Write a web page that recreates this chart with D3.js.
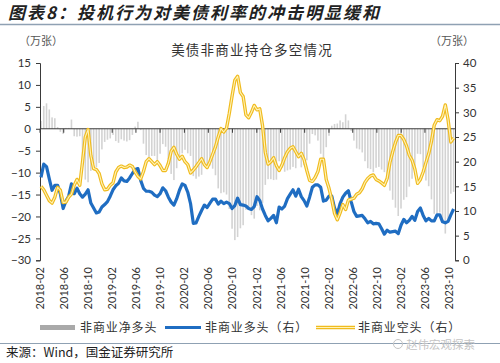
<!DOCTYPE html>
<html><head><meta charset="utf-8">
<script src="https://cdn.jsdelivr.net/npm/d3@7"></script>
<style>body{margin:0;background:#fff}svg{display:block}</style>
</head><body>
<svg id="c" width="500" height="363"></svg>
<script>
// ---- data (万张), biweekly observations starting 2018-02-06 ----
const startDate = "2018-02-06";
const stepDays = 14;
const netLong = [1.8,5.2,5.8,4.4,2.6,2.4,0.4,-0.7,-1.2,0.2,0.2,2.1,-1.7,-1.8,-1.7,-7.2,-11.6,-12.2,-9.6,-8,
-8.8,-7.8,-4.7,-3,-2.5,-2.2,-1.4,-2.8,-3.2,-2.4,-2.7,-2.9,-2.6,-1.4,0.5,1.6,-0.3,-3.4,-6,-6.6,
-6.2,-6.2,-7.1,-5.7,-3.5,-4.1,-6.9,-10.3,-11.7,-9,-6.3,-5.6,-4.8,-5.6,-6.2,-10.8,-11.4,-10.9,-10.5,-8.2,
-8.1,-8.4,-9.1,-10.6,-13.6,-14.7,-14.5,-15,-18.3,-22.8,-25.4,-24.7,-22.7,-22,-18.5,-18.4,-19.7,-20.5,-17.6,-18.6,
-16.9,-12.8,-11.5,-11.5,-11.7,-11.6,-7.4,-8.9,-9.8,-9.5,-9.3,-8.7,-9,-6.6,-8.8,-8.3,-7.2,-3.4,-1.2,-1.5,
-2.7,-5.7,-8.5,-4.2,-1.6,0.7,1.1,1.2,1.9,1.5,3.3,1.9,-0.5,-2.7,-4.5,-4.7,-5.4,-7.4,-9,-9.2,
-9.9,-8.9,-8.7,-9.3,-9.9,-10.5,-14.1,-16.2,-18,-19.9,-18.2,-16.2,-15.6,-13.2,-11.4,-10.4,-5.7,-5.8,-8.8,-11.8,
-13.1,-16.1,-19.4,-19.3,-19.1,-21.4,-23.9,-20.6,-14.8,-14.4];
const longPos = [16.8,19.5,19,16.5,14.2,15.2,15.2,13.5,10.5,12,13,15.5,13.5,14.6,13.5,12.8,13.4,14.3,11.6,10.6,
9.6,9.8,10.8,11.3,11.9,13,14.3,15.1,15.6,16.7,16.1,16,16.7,17.6,18.4,18.6,16.2,14.6,14,14,
13.8,13.2,12.9,13.5,14.7,14.1,12.8,11.8,11.2,12.5,14.2,15.5,15.2,13.8,11.5,7.5,7.6,8.9,10.1,11.2,
10.7,11.6,12.4,12.4,11.4,12,11.5,11.8,11.5,10.5,11.1,12.6,11.3,11.2,11,10.5,10.3,10.9,12.9,12.1,
10.4,9.1,8,8.5,9.1,7.6,10.8,10.4,11,12.5,13.4,14.3,13,14.4,12.9,12.1,11,12.8,14.8,15.3,
15.3,14.8,12,12.2,13,13,10.6,9.4,11.5,12.8,13.6,14.1,11.9,9.9,8.9,9,9.1,8.4,7.6,7.9,
7.4,7.5,7.4,6.4,5.3,6.1,5.7,5.8,5.9,5.4,7.1,8.3,7.6,8.1,8.9,8.1,9.9,10.6,9.1,8,
8.5,8,8,9.2,9.2,7.8,7.6,7.9,9.2,10.4];
const shortPos = [15,14.3,13.2,12.1,11.6,12.8,14.8,14.2,11.7,11.8,12.8,13.4,15.2,16.4,15.2,20,25,26.5,21.2,18.6,
18.4,17.6,15.5,14.3,14.4,15.2,15.7,17.9,18.8,19.1,18.8,18.9,19.3,19,17.9,17,16.5,18,20,20.6,
20,19.4,20,19.2,18.2,18.2,19.7,22.1,22.9,21.5,20.5,21.1,20,19.4,17.7,18.3,19,19.8,20.6,19.4,
18.8,20,21.5,23,25,26.7,26,26.8,29.8,33.3,36.5,37.3,34,33.2,29.5,28.9,30,31.4,30.5,30.7,
27.3,21.9,19.5,20,20.8,19.2,18.2,19.3,20.8,22,22.7,23,22,21,21.7,20.4,18.2,16.2,16,16.8,
18,20.5,20.5,16.4,14.6,12.3,9.5,8.2,9.6,11.3,10.3,12.2,12.4,12.6,13.4,13.7,14.5,15.8,16.6,17.1,
17.3,16.4,16.1,15.7,15.2,16.6,19.8,22,23.9,25.3,25.3,24.5,23.2,21.3,20.3,18.5,15.6,16.4,17.9,19.8,
21.6,24.1,27.4,28.5,28.3,29.2,31.5,28.5,24,24.8];
const xTickLabels = ["2018-02","2018-06","2018-10","2019-02","2019-06","2019-10","2020-02","2020-06","2020-10",
"2021-02","2021-06","2021-10","2022-02","2022-06","2022-10","2023-02","2023-06","2023-10"];
const leftTicks = [-30,-25,-20,-15,-10,-5,0,5,10,15];
const rightTicks = [0,5,10,15,20,25,30,35,40];
const seriesNames = ["非商业净多头","非商业多头（右）","非商业空头（右）"];

// ---- layout ----
const svg = d3.select("#c");
const cjk = "'Noto Sans CJK SC', sans-serif";
const num = "Lato, 'Liberation Sans', sans-serif";
const L = 40, R = 455, T = 63, B = 260.3;

const parse = d3.utcParse("%Y-%m-%d");
const parseM = d3.utcParse("%Y-%m");
const t0 = parse(startDate);
const dates = netLong.map((_, i) => d3.utcDay.offset(t0, i * stepDays));

const x = d3.scaleUtc().domain([parse("2018-02-01"), parse("2023-10-31")]).range([L, R]);
const yL = d3.scaleLinear().domain([-30, 15]).range([B, T]);
const yR = d3.scaleLinear().domain([0, 40]).range([B, T]);

// title
svg.append("text").attr("x", 8).attr("y", 19)
  .attr("font-family", cjk).attr("font-size", 17).attr("font-weight", "bold")
  .attr("font-style", "italic").attr("letter-spacing", 2).attr("fill", "#222")
  .text("图表8：投机行为对美债利率的冲击明显缓和");
svg.append("line").attr("x1", 0).attr("x2", 500).attr("y1", 24.5).attr("y2", 24.5)
  .attr("stroke", "#8fa1b3").attr("stroke-width", 1.5);
svg.append("line").attr("x1", 0).attr("x2", 500).attr("y1", 343.5).attr("y2", 343.5)
  .attr("stroke", "#8fa1b3").attr("stroke-width", 1.2);

// units + subtitle
svg.append("text").attr("x", 41).attr("y", 45).attr("text-anchor", "middle")
  .attr("font-family", cjk).attr("font-size", 11).attr("fill", "#555").text("（万张）");
svg.append("text").attr("x", 452).attr("y", 45).attr("text-anchor", "middle")
  .attr("font-family", cjk).attr("font-size", 11).attr("fill", "#555").text("（万张）");
svg.append("text").attr("x", 252).attr("y", 54.5).attr("text-anchor", "middle")
  .attr("font-family", cjk).attr("font-size", 13.5).attr("letter-spacing", 1.2).attr("fill", "#333")
  .text("美债非商业持仓多空情况");

// net long bars
svg.append("g").selectAll("rect").data(netLong).join("rect")
  .attr("x", (d, i) => x(dates[i]) - 0.8).attr("width", 1.6)
  .attr("y", d => yL(Math.max(0, d))).attr("height", d => Math.abs(yL(d) - yL(0)))
  .attr("fill", "#d3d3d3");

// zero line with category ticks
svg.append("line").attr("x1", L).attr("x2", R).attr("y1", yL(0)).attr("y2", yL(0))
  .attr("stroke", "#3a3a3a").attr("stroke-width", 1);
const xt = xTickLabels.map(s => parseM(s));
svg.append("g").selectAll("line").data(xt).join("line")
  .attr("x1", d => x(d)).attr("x2", d => x(d)).attr("y1", yL(0)).attr("y2", yL(0) + 4)
  .attr("stroke", "#3a3a3a");

// x labels
svg.append("g").selectAll("text").data(xTickLabels).join("text")
  .attr("transform", (d, i) => `translate(${x(xt[i]) + 4},267) rotate(-90)`)
  .attr("text-anchor", "end").attr("font-family", num).attr("font-size", 11).attr("fill", "#333")
  .text(d => d);

// axes
const axL = d3.axisLeft(yL).tickValues(leftTicks).tickSize(4).tickPadding(5);
const gL = svg.append("g").attr("transform", `translate(${L},0)`).call(axL);
const axR = d3.axisRight(yR).tickValues(rightTicks).tickSize(4).tickPadding(4);
const gR = svg.append("g").attr("transform", `translate(${R},0)`).call(axR);
[gL, gR].forEach(g => {
  g.select(".domain").attr("stroke", "#3a3a3a");
  g.selectAll(".tick line").attr("stroke", "#3a3a3a");
  g.selectAll("text").attr("font-family", num).attr("font-size", 11.5).attr("fill", "#333");
});

// lines
const lineL = d3.line().x((d, i) => x(dates[i])).y(d => yR(d));
svg.append("path").datum(longPos).attr("d", lineL).attr("fill", "none")
  .attr("stroke", "#1f6dc2").attr("stroke-width", 3.2).attr("stroke-linejoin", "round");
svg.append("path").datum(shortPos).attr("d", lineL).attr("fill", "none")
  .attr("stroke", "#f0bb1e").attr("stroke-width", 3.4).attr("stroke-linejoin", "round");
svg.append("path").datum(shortPos).attr("d", lineL).attr("fill", "none")
  .attr("stroke", "#fff3b8").attr("stroke-width", 1.1).attr("stroke-linejoin", "round");

// legend
const lg = svg.append("g");
lg.append("rect").attr("x", 40).attr("y", 325).attr("width", 35).attr("height", 5).attr("fill", "#a9a9a9");
lg.append("line").attr("x1", 165).attr("x2", 201).attr("y1", 327.5).attr("y2", 327.5)
  .attr("stroke", "#1f6dc2").attr("stroke-width", 3);
lg.append("line").attr("x1", 316).attr("x2", 355).attr("y1", 327.5).attr("y2", 327.5)
  .attr("stroke", "#f0bb1e").attr("stroke-width", 3.4);
lg.append("line").attr("x1", 316).attr("x2", 355).attr("y1", 327.5).attr("y2", 327.5)
  .attr("stroke", "#fff3b8").attr("stroke-width", 1.1);
[[80, seriesNames[0]], [205, seriesNames[1]], [358, seriesNames[2]]].forEach(([tx, s]) => {
  lg.append("text").attr("x", tx).attr("y", 332).attr("font-family", cjk).attr("font-size", 12)
    .attr("letter-spacing", 0.9).attr("fill", "#333").text(s);
});

// source
svg.append("text").attr("x", 6).attr("y", 357).attr("font-family", cjk).attr("font-size", 12.5)
  .attr("fill", "#222").text("来源：Wind，国金证券研究所");

// watermark
svg.append("circle").attr("cx", 398).attr("cy", 344).attr("r", 4.5).attr("fill", "none")
  .attr("stroke", "#c4c4c4").attr("stroke-width", 1);
svg.append("text").attr("x", 406).attr("y", 349).attr("font-family", cjk).attr("font-size", 11.5)
  .attr("fill", "#c4c4c4").text("赵伟宏观探索");
</script>
</body></html>
